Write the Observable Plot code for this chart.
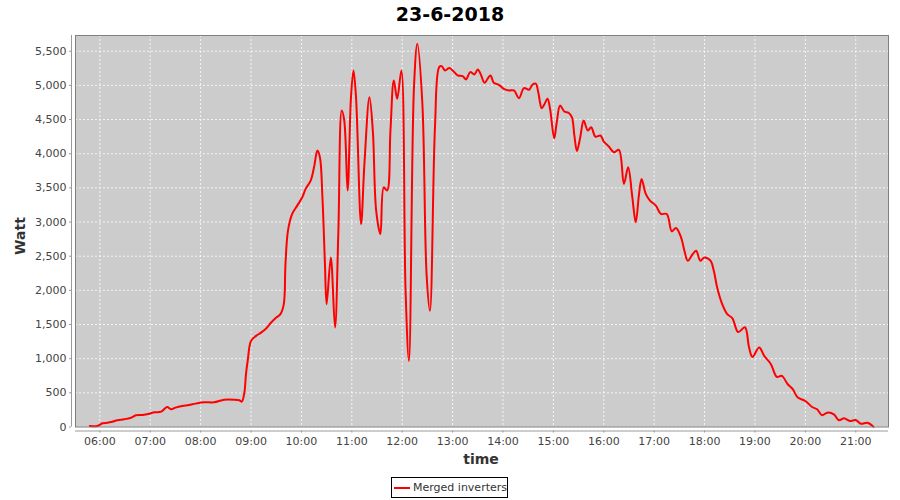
<!DOCTYPE html>
<html><head><meta charset="utf-8">
<script src="https://cdn.jsdelivr.net/npm/d3@7"></script>
<script src="https://cdn.jsdelivr.net/npm/@observablehq/plot@0.6"></script>
<style>
body{margin:0;background:#fff;}
#wrap{position:relative;width:900px;height:500px;font-family:"DejaVu Sans",sans-serif;overflow:hidden}
#title{position:absolute;left:0;top:0;width:900px;text-align:center;font:bold 19px "DejaVu Sans";line-height:28px;color:#000}
#chart{position:absolute;left:0;top:28px}
#ylab{position:absolute;left:20px;top:236px;transform:translate(-50%,-50%) rotate(-90deg);font:bold 14px "DejaVu Sans";color:#333;white-space:nowrap}
#xlab{position:absolute;left:481px;top:459px;transform:translate(-50%,-50%);font:bold 14px "DejaVu Sans";color:#333;white-space:nowrap}
#legend{position:absolute;left:391px;top:477px;width:115px;height:19px;border:1px solid #000;display:flex;align-items:center;box-sizing:content-box;font:11px "DejaVu Sans";color:#333;white-space:nowrap}
#legend .sw{width:17px;height:2px;background:#ff0000;margin-left:2px;margin-right:3px}
</style>
</head><body>
<div id="wrap">
  <div id="title"></div>
  <div id="chart"></div>
  <div id="ylab"></div>
  <div id="xlab"></div>
  <div id="legend"><div class="sw"></div><span id="legtext"></span></div>
</div>
<script>
const chartTitle = "23-6-2018";
const yLabel = "Watt";
const xLabel = "time";
const seriesName = "Merged inverters";
const day = [2018, 5, 23];
const xDomain = ["05:31", "21:39"];
const yDomain = [0, 5730];
const hourTicks = ["06:00","07:00","08:00","09:00","10:00","11:00","12:00","13:00","14:00","15:00","16:00","17:00","18:00","19:00","20:00","21:00"];
const wattTicks = [0,500,1000,1500,2000,2500,3000,3500,4000,4500,5000,5500];

const times = ["05:48","05:57","06:03","06:09","06:15","06:21","06:29","06:37","06:43","06:51","06:59","07:05","07:13","07:20","07:25","07:30","07:38","07:46","07:54","08:04","08:16","08:28","08:40","08:46","08:49","08:52","08:54","08:56","09:00","09:06","09:12","09:18","09:24","09:30","09:35","09:39","09:41","09:44","09:49","09:55","10:01","10:05","10:11","10:15","10:19","10:22","10:25","10:28","10:30","10:35","10:40","10:44","10:48","10:51","10:55","10:59","11:02","11:05","11:11","11:15","11:21","11:25","11:29","11:34","11:38","11:42","11:46","11:50","11:54","11:59","12:04","12:08","12:14","12:18","12:24","12:29","12:33","12:39","12:44","12:47","12:51","12:56","13:00","13:06","13:12","13:16","13:21","13:26","13:30","13:34","13:38","13:45","13:49","13:55","14:01","14:07","14:13","14:19","14:25","14:31","14:35","14:39","14:42","14:46","14:49","14:53","14:56","15:01","15:04","15:08","15:13","15:18","15:22","15:25","15:28","15:32","15:36","15:41","15:45","15:50","15:56","16:00","16:06","16:12","16:18","16:24","16:29","16:34","16:38","16:42","16:45","16:50","16:55","17:02","17:08","17:15","17:21","17:26","17:32","17:36","17:40","17:46","17:50","17:55","18:00","18:07","18:11","18:15","18:21","18:27","18:33","18:40","18:48","18:53","18:57","19:05","19:11","19:19","19:26","19:32","19:39","19:45","19:51","20:00","20:08","20:14","20:20","20:26","20:34","20:40","20:46","20:53","21:00","21:06","21:14","21:21"];
const watts = [15,15,54,63,78,98,113,136,171,176,195,215,224,293,259,283,308,322,342,362,362,400,400,391,371,498,777,967,1261,1334,1382,1441,1529,1602,1652,1798,2385,2873,3118,3240,3362,3485,3606,3801,4046,3948,3362,2385,1798,2482,1456,2873,4633,4486,3460,4828,5219,4828,2972,3851,4828,4339,3167,2825,3508,3460,4339,5072,4804,5219,1994,967,4974,5610,4731,2238,1700,4388,5268,5282,5219,5253,5219,5146,5135,5087,5194,5160,5234,5146,5038,5146,5038,5009,4950,4926,4926,4813,4960,4936,5009,5024,4901,4667,4716,4804,4657,4226,4461,4706,4618,4599,4535,4266,4040,4241,4486,4339,4388,4251,4266,4178,4105,4021,4056,3558,3801,3362,2995,3411,3631,3411,3313,3240,3118,3118,2863,2913,2775,2580,2434,2532,2580,2434,2482,2434,2287,2042,1798,1652,1594,1390,1460,1163,1026,1163,1041,919,733,748,626,553,430,381,293,259,171,210,186,98,127,88,103,48,63,4];

function parseT(s){const [h,m]=s.split(":").map(Number);return new Date(Date.UTC(day[0],day[1],day[2],h,m));}

const data = times.map((t,i)=>({time: parseT(t), watt: watts[i]}));
const tickDates = hourTicks.map(parseT);
const x0 = parseT(xDomain[0]);

document.getElementById("title").textContent = chartTitle;
document.getElementById("ylab").textContent = yLabel;
document.getElementById("xlab").textContent = xLabel;
document.getElementById("legtext").textContent = seriesName;

const chart = Plot.plot({
  width: 900, height: 444,
  marginLeft: 75, marginRight: 12, marginTop: 7, marginBottom: 45.5,
  style: {fontFamily: "DejaVu Sans", fontSize: "11px", color: "#444", background: "transparent"},
  x: {type: "utc", domain: [x0, parseT(xDomain[1])]},
  y: {domain: yDomain},
  marks: [
    Plot.frame({fill: "#cccccc", stroke: "none"}),
    Plot.gridX(tickDates, {stroke: "#ffffff", strokeOpacity: 1, strokeDasharray: "2,2", strokeWidth: 0.8}),
    Plot.gridY(wattTicks, {stroke: "#ffffff", strokeOpacity: 1, strokeDasharray: "2,2", strokeWidth: 0.8}),
    Plot.line(data, {x: "time", y: "watt", stroke: "#ff0000", strokeWidth: 2, curve: "catmull-rom"}),
    Plot.frame({stroke: "#808080"}),
    Plot.ruleY([yDomain[0]], {dy: 4, stroke: "#999999"}),
    Plot.ruleX([x0], {dx: -4, stroke: "#999999"}),
    Plot.axisX(tickDates, {tickFormat: d3.utcFormat("%H:%M"), tickSize: 2, tickPadding: 4, dy: 4, label: null, stroke: "#999999", fill: "#444"}),
    Plot.axisY(wattTicks, {tickFormat: d3.format(","), tickSize: 2, tickPadding: 3, dx: -4, label: null, stroke: "#999999", fill: "#444"})
  ]
});
document.getElementById("chart").appendChild(chart);
</script>
</body></html>
